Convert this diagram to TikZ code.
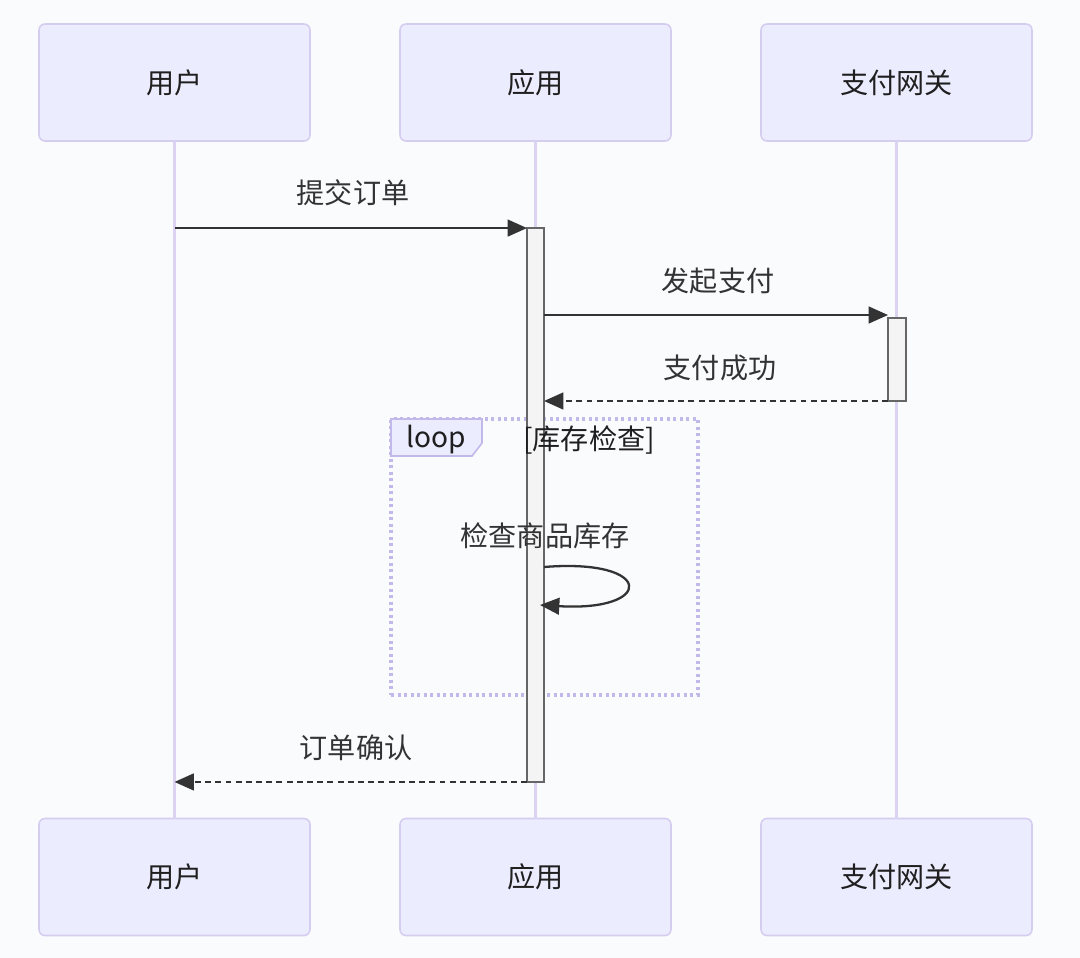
\documentclass[tikz,border=0pt]{standalone}
\usepackage{fontspec}
\newfontfamily\cjk{Noto Sans CJK SC}
\usetikzlibrary{positioning,arrows.meta,calc}
\definecolor{sqBg}{HTML}{FAFBFD}
\definecolor{sqActorFill}{HTML}{ECECFF}
\definecolor{sqActorLine}{HTML}{D5CDF0}
\definecolor{sqLife}{HTML}{DCD3F3}
\definecolor{sqInk}{HTML}{333333}
\definecolor{sqActFill}{HTML}{F4F4F4}
\definecolor{sqActLine}{HTML}{666666}
\definecolor{sqLoop}{HTML}{C2B8EA}
\tikzset{
  sqactor/.style={rectangle, rounded corners=3.4pt, draw=sqActorLine, fill=sqActorFill,
                  line width=0.9pt, minimum width=5.42cm, minimum height=2.34cm,
                  inner sep=0pt, outer sep=0pt, font=\cjk\fontsize{16}{19}\selectfont, text=black!88},
  sqlife/.style={draw=sqLife, line width=1.5pt},
  sqact/.style={rectangle, draw=sqActLine, fill=sqActFill, line width=0.9pt,
                minimum width=0.34cm, inner sep=0pt, outer sep=0pt},
  sqlab/.style={font=\cjk\fontsize{16}{19}\selectfont, text=sqInk, inner sep=1pt},
  sqmsg/.style={draw=sqInk, line width=1.3pt, -{Triangle[length=11pt, width=9.5pt]}},
  sqreply/.style={sqmsg, dash pattern=on 3.4pt off 2.4pt},
  sqloop/.style={rectangle, draw=sqLoop, line width=1.9pt, dash pattern=on 1.8pt off 1.9pt,
                 minimum width=6.14cm, minimum height=5.52cm, inner sep=0pt, outer sep=0pt},
}

\begin{document}
\begin{tikzpicture}[x=0.02cm, y=-0.02cm]
  \fill[sqBg] (0,0) rectangle (1080,958);
  \useasboundingbox (0,0) rectangle (1080,958);

  % participants
  \node[sqactor] (userTop) at (174.5,82.5) {用户};
  \node[sqactor] (appTop)  at (535.5,82.5) {应用};
  \node[sqactor] (payTop)  at (896.5,82.5) {支付网关};
  \node[sqactor] (userBot) at (174.5,877) {用户};
  \node[sqactor] (appBot)  at (535.5,877) {应用};
  \node[sqactor] (payBot)  at (896.5,877) {支付网关};

  \draw[sqlife] (userTop) -- (userBot);
  \draw[sqlife] (appTop) -- (appBot);
  \draw[sqlife] (payTop) -- (payBot);

  % loop frame
  \node[sqloop] (loopBox) at (544.5,557) {};
  \draw[sqLoop, fill=sqActorFill, line width=0.9pt]
    (loopBox.north west) -- ++(91,0) -- ++(0,24) -- ++(-10,13) -- ++(-81,0) -- cycle;

  % activations
  \node[sqact, minimum height=11.08cm] (appAct) at (535.5,505) {};
  \node[sqact, minimum width=0.36cm, minimum height=1.66cm] (payAct) at (897,359.5) {};

  \node[sqlab, text=black!88] (loopLab) at (436,440) {loop};
  \node[sqlab, text=black!88] (loopCond) at (589,440) {[库存检查]};

  % messages
  \coordinate (m1) at (userTop |- appAct.north);
  \node[sqlab] (m1lab) at (353,193) {提交订单};
  \draw[sqmsg] (m1) -- (appAct.north west);

  \coordinate (m2a) at (appAct.east |- 0,315);
  \coordinate (m2b) at (payAct.west |- 0,315);
  \node[sqlab] (m2lab) at (718,281) {发起支付};
  \draw[sqmsg] (m2a) -- (m2b);

  \coordinate (m3) at (appAct.east |- payAct.south);
  \node[sqlab] (m3lab) at (720,368) {支付成功};
  \draw[sqreply] (payAct.south west) -- (m3);

  \coordinate (s1) at (appAct.east |- 0,567);
  \coordinate (s2) at (540,605);
  \node[sqlab] (s1lab) at (545,536) {检查商品库存};
  \draw[sqmsg] (s1) .. controls (655,558) and (655,612) .. (s2);

  \coordinate (m5) at (userTop |- appAct.south);
  \node[sqlab] (m5lab) at (356,748) {订单确认};
  \draw[sqreply] (appAct.south west) -- (m5);
\end{tikzpicture}
\end{document}
